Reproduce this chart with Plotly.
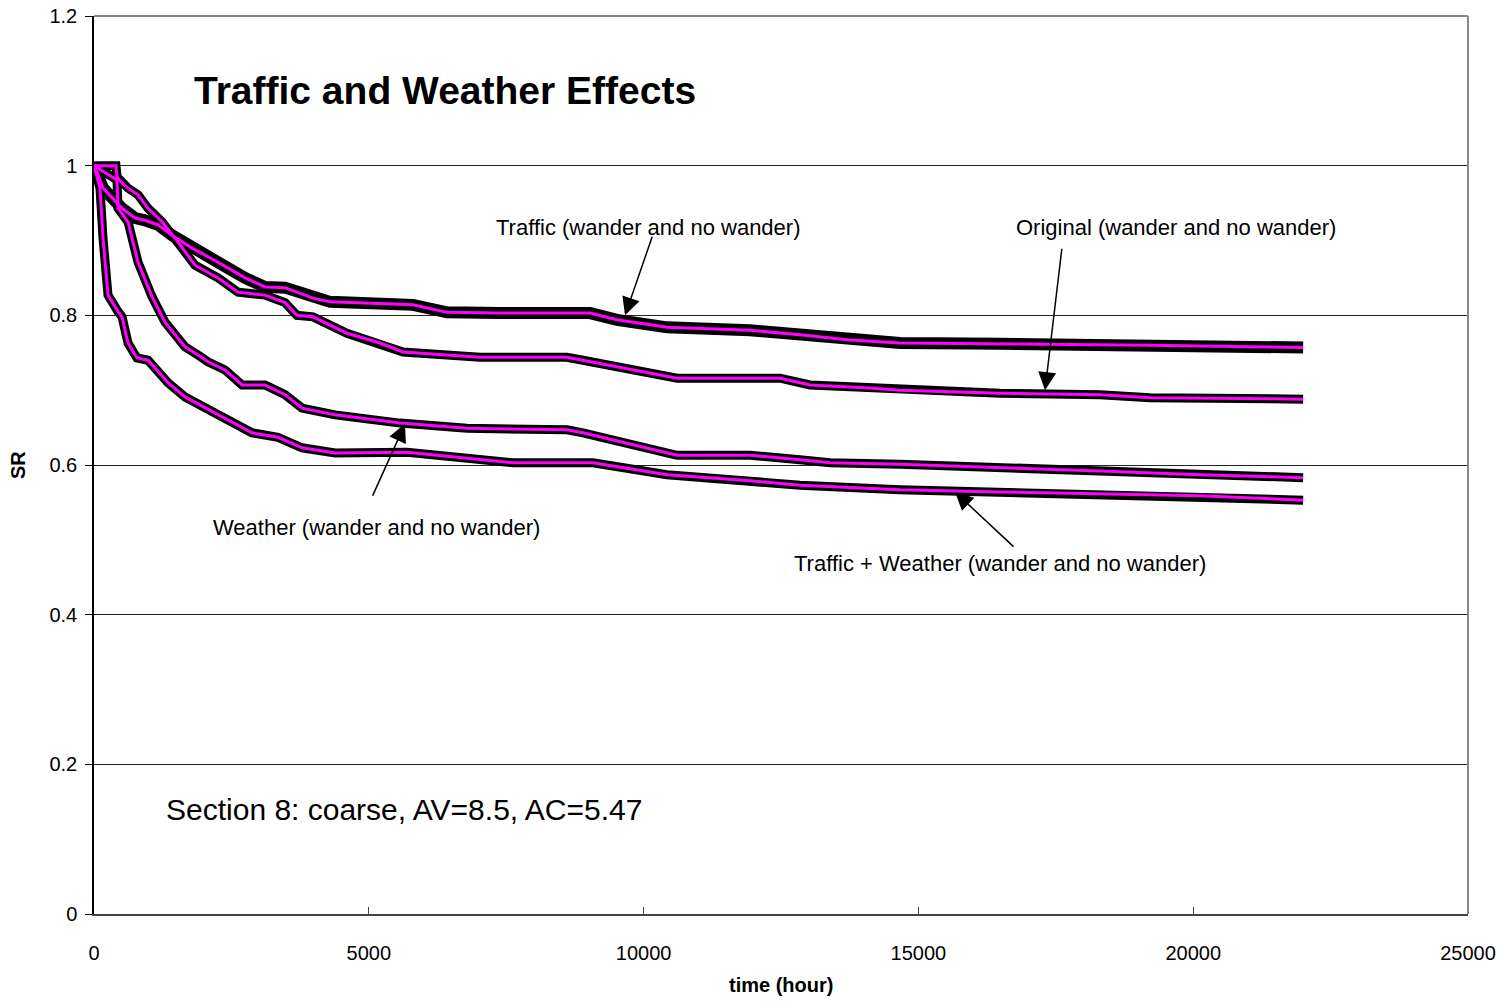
import plotly.graph_objects as go

# ---- data ----
traffic_t = [0, 73, 164, 510, 746, 928, 1164, 1419, 1783, 2256, 2748, 3111, 3475, 3985, 4294,
             5804, 6423, 7387, 9025, 9516, 10426, 11936, 12845, 13755, 14665, 16485, 19214, 21033, 22000]
traffic_sr = [1.0, 0.988, 0.970, 0.943, 0.930, 0.927, 0.921, 0.907, 0.890, 0.871, 0.850, 0.838, 0.837, 0.823, 0.818,
              0.814, 0.804, 0.803, 0.803, 0.794, 0.784, 0.780, 0.774, 0.767, 0.763, 0.762, 0.760, 0.758, 0.757]

original_t = [0, 400, 420, 510, 619, 801, 983, 1237, 1528, 1838, 2256, 2620, 3111, 3475, 3694, 3985,
              4603, 5204, 5622, 7023, 8606, 8897, 10608, 11936, 12482, 13028, 14119, 14665, 16485, 18304, 19214, 22000]
original_sr = [1.0, 1.0, 0.985, 0.977, 0.970, 0.961, 0.943, 0.925, 0.898, 0.867, 0.850, 0.831, 0.827, 0.817, 0.800, 0.798,
               0.776, 0.763, 0.751, 0.744, 0.744, 0.740, 0.716, 0.716, 0.716, 0.707, 0.703, 0.700, 0.696, 0.694, 0.690, 0.688]

weather_t = [0, 418, 437, 619, 801, 1055, 1292, 1656, 1892, 2074, 2384, 2693, 3111, 3475, 3785, 4385,
             5568, 6787, 8606, 8897, 10608, 11936, 12845, 13391, 14665, 16485, 18304, 20124, 22000]
weather_sr = [1.0, 0.981, 0.943, 0.925, 0.871, 0.825, 0.791, 0.758, 0.747, 0.738, 0.727, 0.707, 0.707, 0.694, 0.676, 0.667,
              0.656, 0.649, 0.647, 0.643, 0.613, 0.613, 0.607, 0.603, 0.601, 0.597, 0.592, 0.587, 0.583]

tw_t = [0, 109, 164, 255, 437, 510, 619, 782, 983, 1346, 1656, 2256, 2875, 3348, 3785, 4385,
        5695, 7624, 9080, 10426, 11936, 12845, 14665, 16485, 18304, 20124, 22000]
tw_sr = [1.0, 0.970, 0.903, 0.827, 0.805, 0.798, 0.763, 0.743, 0.740, 0.710, 0.691, 0.667, 0.643, 0.637, 0.623, 0.616,
         0.617, 0.603, 0.603, 0.587, 0.579, 0.573, 0.567, 0.564, 0.561, 0.559, 0.553]

series = [
    ("Traffic", traffic_t, traffic_sr, 12),
    ("Original", original_t, original_sr, 9),
    ("Weather", weather_t, weather_sr, 9),
    ("Traffic + Weather", tw_t, tw_sr, 9),
]

x_ticks = [0, 5000, 10000, 15000, 20000, 25000]
x_tick_text = ["0", "5000", "10000", "15000", "20000", "25000"]
y_ticks = [0, 0.2, 0.4, 0.6, 0.8, 1.0, 1.2]
y_tick_text = ["0", "0.2", "0.4", "0.6", "0.8", "1", "1.2"]

fig = go.Figure()
for name, t, sr, w in series:
    fig.add_trace(go.Scatter(x=t, y=sr, mode="lines", name=name + " (wander)",
                             line=dict(color="black", width=w), showlegend=False))
for name, t, sr, w in series:
    fig.add_trace(go.Scatter(x=t, y=sr, mode="lines", name=name + " (no wander)",
                             line=dict(color="#FF00FF", width=3), showlegend=False))

FONT = "Liberation Sans, Arial, sans-serif"

fig.update_layout(
    width=1508, height=1004,
    margin=dict(l=94, r=40, t=16, b=90, autoexpand=False),
    paper_bgcolor="white", plot_bgcolor="white",
    font=dict(family=FONT, color="black", size=20),
    xaxis=dict(range=[0, 25000], tickvals=x_ticks, ticktext=x_tick_text, ticks="inside", ticklen=7,
               tickcolor="#444", automargin=False, ticklabeloverflow="allow",
               showgrid=False, zeroline=False, showline=True, linecolor="#444", linewidth=2,
               tickfont=dict(size=20), ticklabelstandoff=20),
    yaxis=dict(range=[0, 1.2], tickvals=y_ticks, ticktext=y_tick_text, ticks="outside", ticklen=7,
               tickcolor="black", showgrid=True, gridcolor="#222", gridwidth=1, automargin=False,
               ticklabeloverflow="allow",
               zeroline=False, showline=True, linecolor="black", linewidth=1.5,
               tickfont=dict(size=20), ticklabelstandoff=4),
)

# axis titles
fig.add_annotation(x=0.5, y=-0.079, xref="paper", yref="paper",
                   text="<b>time (hour)</b>", showarrow=False, font=dict(size=20, family=FONT),
                   xanchor="center", yanchor="middle")
fig.add_annotation(x=-0.0553, y=0.5, xref="paper", yref="paper",
                   text="<b>SR</b>", showarrow=False, textangle=-90, font=dict(size=20, family=FONT),
                   xanchor="center", yanchor="middle")

# plot-area frame (top and right in gray)
fig.add_shape(type="line", xref="x domain", yref="y domain", x0=0, x1=1, y0=1, y1=1,
              line=dict(color="#888", width=2))
fig.add_shape(type="line", xref="x domain", yref="y domain", x0=1, x1=1, y0=0, y1=1,
              line=dict(color="#888", width=2))

# title text box
fig.add_annotation(x=1783, y=1.101, xref="x", yref="y", xanchor="left", yanchor="middle",
                   text="<b>Traffic and Weather Effects</b>", showarrow=False,
                   font=dict(size=39, family=FONT))
fig.add_annotation(x=1274, y=0.140, xref="x", yref="y", xanchor="left", yanchor="middle",
                   text="Section 8: coarse, AV=8.5, AC=5.47", showarrow=False,
                   font=dict(size=30, family=FONT))

labels = [
    ("Traffic (wander and no wander)", 10089, 0.917),
    ("Original (wander and no wander)", 19687, 0.917),
    ("Weather (wander and no wander)", 5131, 0.517),
    ("Traffic + Weather (wander and no wander)", 16485, 0.469),
]
for txt, lx, ly in labels:
    fig.add_annotation(x=lx, y=ly, xref="x", yref="y", text=txt, showarrow=False,
                       font=dict(size=22, family=FONT))

arrows = [
    (10166, 0.907, 9662, 0.800),
    (17613, 0.891, 17304, 0.700),
    (5058, 0.557, 5660, 0.655),
    (16758, 0.489, 15666, 0.564),
]
for tx, ty, hx, hy in arrows:
    fig.add_annotation(x=hx, y=hy, ax=tx, ay=ty, xref="x", yref="y", axref="x", ayref="y",
                       text="", showarrow=True, arrowhead=2, arrowsize=2.4, arrowwidth=1.5,
                       arrowcolor="black")

# remove the default 8px page margin so the figure fills the window exactly
fig.write_html("out.html", config={"displayModeBar": False},
               post_script="document.body.style.margin='0';document.body.style.overflow='hidden';")
